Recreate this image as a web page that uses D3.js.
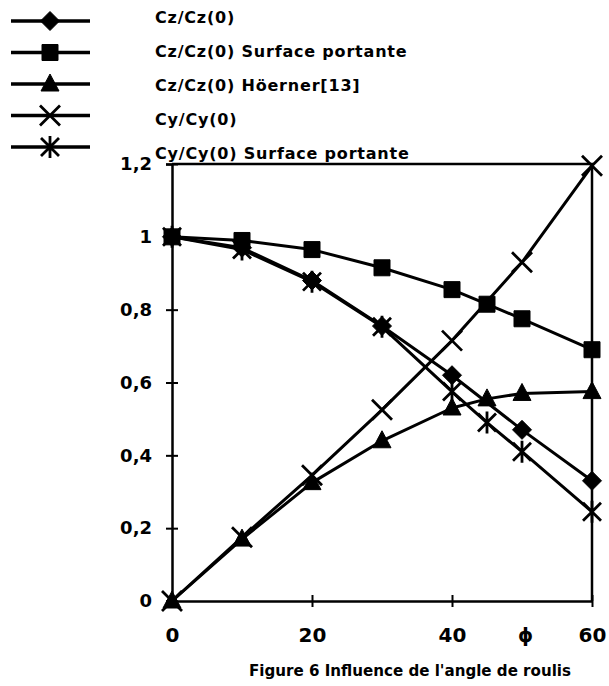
<!DOCTYPE html>
<html>
<head>
<meta charset="utf-8">
<script src="https://cdn.jsdelivr.net/npm/d3@7"></script>
<style>
  body { margin: 0; background: #fff; }
  text { font-family: "DejaVu Sans", "Liberation Sans", Arial, sans-serif; font-weight: bold; fill: #000; }
</style>
</head>
<body>
<div id="chart"></div>
<script>
// Values (roll angle in degrees -> coefficient ratio)
const czX = [0, 10, 20, 30, 40, 50, 60];
const czY = [1.0, 0.97, 0.88, 0.755, 0.62, 0.47, 0.33];

const czSpX = [0, 10, 20, 30, 40, 45, 50, 60];
const czSpY = [1.0, 0.99, 0.965, 0.915, 0.855, 0.815, 0.775, 0.69];

const hoernerX = [0, 10, 20, 30, 40, 45, 50, 60];
const hoernerY = [0, 0.17, 0.325, 0.44, 0.53, 0.555, 0.57, 0.575];

const cyX = [0, 10, 20, 30, 40, 50, 60];
const cyY = [0, 0.175, 0.345, 0.525, 0.715, 0.93, 1.195];

const cySpX = [0, 10, 20, 30, 40, 45, 50, 60];
const cySpY = [1.0, 0.965, 0.877, 0.753, 0.575, 0.49, 0.41, 0.245];

const seriesNames = [
  "Cz/Cz(0)",
  "Cz/Cz(0) Surface portante",
  "Cz/Cz(0) Höerner[13]",
  "Cy/Cy(0)",
  "Cy/Cy(0) Surface portante"
];
const xTicks = [0, 20, 40, 60];
const yTicks = [0, 0.2, 0.4, 0.6, 0.8, 1, 1.2];
const title = "Figure 6 Influence de l'angle de roulis";

const series = [
  { name: seriesNames[0], x: czX, y: czY, marker: "diamond" },
  { name: seriesNames[1], x: czSpX, y: czSpY, marker: "square" },
  { name: seriesNames[2], x: hoernerX, y: hoernerY, marker: "triangle" },
  { name: seriesNames[3], x: cyX, y: cyY, marker: "x" },
  { name: seriesNames[4], x: cySpX, y: cySpY, marker: "asterisk" }
];

const W = 609, H = 686;
const margin = { left: 172, top: 164, right: 17, bottom: 85 };
const innerW = W - margin.left - margin.right;
const innerH = H - margin.top - margin.bottom;

const x = d3.scaleLinear().domain([0, 60]).range([0, innerW]);
const y = d3.scaleLinear().domain([0, 1.2]).range([innerH, 0]);

// marker shapes, drawn around (0,0)
function markerPath(type) {
  const p = d3.path();
  if (type === "diamond") {
    p.moveTo(0, -9.5); p.lineTo(9.5, 0); p.lineTo(0, 9.5); p.lineTo(-9.5, 0); p.closePath();
  } else if (type === "square") {
    p.rect(-8, -8, 16, 16);
  } else if (type === "triangle") {
    p.moveTo(0, -10); p.lineTo(9, 7); p.lineTo(-9, 7); p.closePath();
  } else if (type === "x") {
    p.moveTo(-10, -10); p.lineTo(10, 10); p.moveTo(10, -10); p.lineTo(-10, 10);
  } else {
    p.moveTo(-9, -9); p.lineTo(9, 9); p.moveTo(9, -9); p.lineTo(-9, 9);
    p.moveTo(0, -11); p.lineTo(0, 11);
  }
  return p.toString();
}
const filled = t => t === "diamond" || t === "square" || t === "triangle";

function drawMarker(sel, type) {
  sel.append("path")
    .attr("d", markerPath(type))
    .attr("fill", filled(type) ? "#000" : "none")
    .attr("stroke", "#000")
    .attr("stroke-width", filled(type) ? 1 : 2.8);
}

const svg = d3.select("#chart").append("svg")
  .attr("width", W).attr("height", H);

// legend
const legend = svg.selectAll(".legend")
  .data(series)
  .enter().append("g")
  .attr("class", "legend");

legend.append("line")
  .attr("x1", 11).attr("x2", 90)
  .attr("y1", (d, i) => 21 + i * 31.5)
  .attr("y2", (d, i) => 21 + i * 31.5)
  .attr("stroke", "#000").attr("stroke-width", 3.5);

legend.each(function(d, i) {
  drawMarker(d3.select(this).append("g").attr("transform", `translate(50,${21 + i * 31.5})`), d.marker);
});

legend.append("text")
  .attr("x", 155)
  .attr("y", (d, i) => 17 + i * 34)
  .attr("dy", "0.36em")
  .style("font-size", "16px")
  .style("letter-spacing", "0.8px")
  .text(d => d.name);

const g = svg.append("g")
  .attr("transform", `translate(${margin.left},${margin.top})`);

// frame: top and right edges
g.append("path")
  .attr("d", `M0,0H${innerW}V${innerH}`)
  .attr("fill", "none").attr("stroke", "#000").attr("stroke-width", 2.5);

// y axis
const yAxis = g.append("g")
  .call(d3.axisLeft(y).tickValues(yTicks).tickSize(6).tickPadding(14)
    .tickFormat(d => String(d).replace(".", ",")));
yAxis.select(".domain").attr("stroke-width", 2.5);
yAxis.selectAll(".tick line").attr("x2", 6).attr("x1", -6).attr("stroke-width", 2);
yAxis.selectAll(".tick text").style("font-size", "18px")
  .style("font-family", "DejaVu Sans, sans-serif").style("font-weight", "bold");

// x axis
const xAxis = g.append("g")
  .attr("transform", `translate(0,${innerH})`)
  .call(d3.axisBottom(x).tickValues(xTicks).tickSize(6).tickPadding(21).tickSizeOuter(0));
xAxis.select(".domain").attr("stroke-width", 2.5);
xAxis.selectAll(".tick line").attr("y1", -6).attr("y2", 6).attr("stroke-width", 2);
xAxis.selectAll(".tick text").style("font-size", "20px")
  .style("font-family", "DejaVu Sans, sans-serif").style("font-weight", "bold");

// axis name (phi) sits among the tick labels
g.append("text")
  .attr("x", x(50.5)).attr("y", innerH + 41)
  .attr("text-anchor", "middle")
  .style("font-size", "19px")
  .text("ϕ");

// series lines
const line = d3.line().x(d => x(d[0])).y(d => y(d[1]));
series.forEach(s => {
  const pts = s.x.map((v, i) => [v, s.y[i]]);
  g.append("path")
    .datum(pts)
    .attr("d", line)
    .attr("fill", "none")
    .attr("stroke", "#000")
    .attr("stroke-width", 3)
    .attr("stroke-linejoin", "round");
});

// markers on top
series.forEach(s => {
  const pts = s.x.map((v, i) => [v, s.y[i]]);
  g.selectAll(null)
    .data(pts)
    .enter().append("g")
    .attr("transform", d => `translate(${x(d[0])},${y(d[1])})`)
    .each(function() { drawMarker(d3.select(this), s.marker); });
});

// caption
svg.append("text")
  .attr("x", 410).attr("y", 676)
  .attr("text-anchor", "middle")
  .attr("textLength", 322)
  .attr("lengthAdjust", "spacingAndGlyphs")
  .style("font-size", "16px")
  .text(title);
</script>
</body>
</html>
